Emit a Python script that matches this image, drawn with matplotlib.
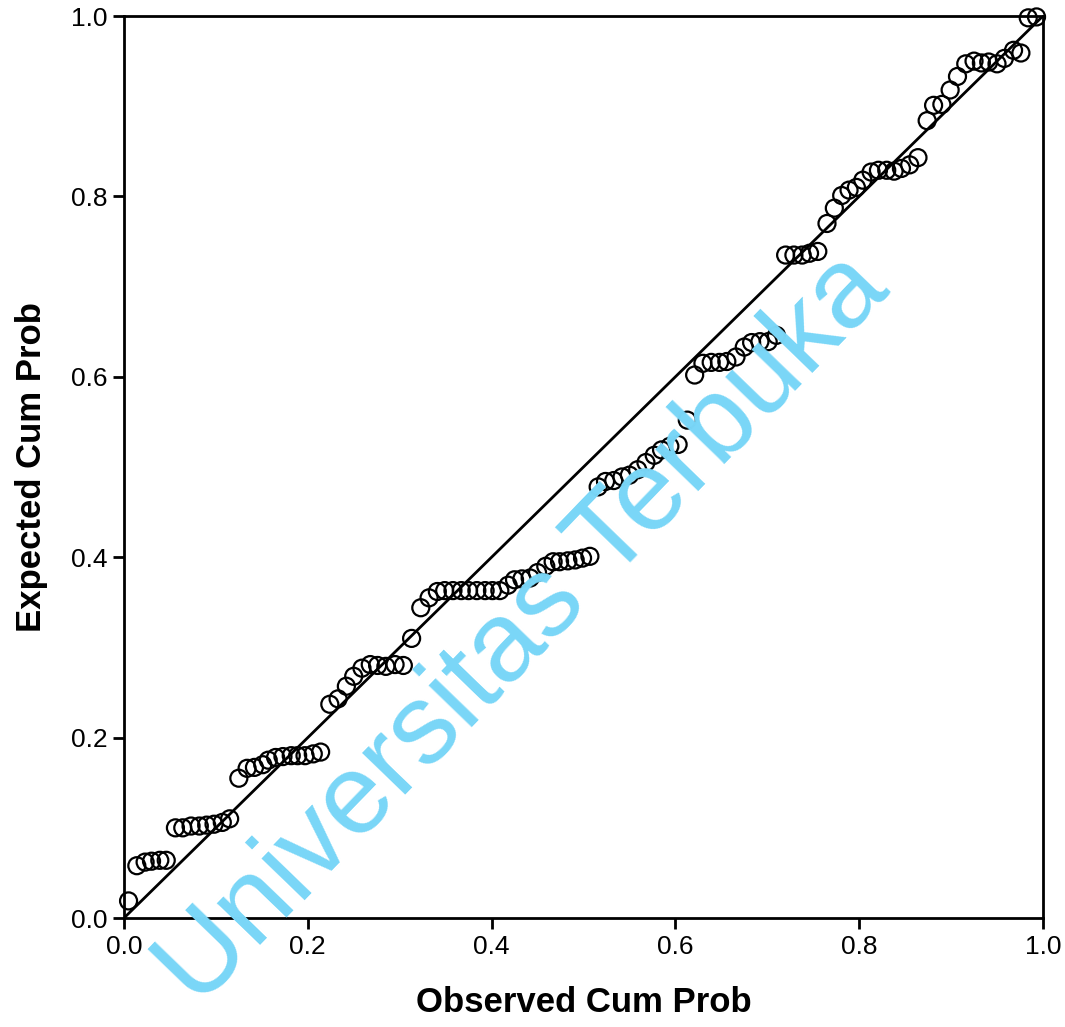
import matplotlib.pyplot as plt
import numpy as np

# P-P plot points
observed = [0.005,
            0.014, 0.023, 0.030, 0.039, 0.046,
            0.056, 0.064, 0.073, 0.082, 0.090, 0.098, 0.107, 0.115,
            0.125, 0.134, 0.142, 0.151, 0.157, 0.165, 0.173, 0.182, 0.189, 0.197, 0.206, 0.214,
            0.224, 0.233, 0.242, 0.250, 0.259, 0.268, 0.276, 0.285, 0.295, 0.304,
            0.313,
            0.323, 0.332, 0.341, 0.349, 0.358, 0.367, 0.375, 0.384, 0.393, 0.401, 0.409,
            0.418, 0.425, 0.433, 0.442, 0.450, 0.459, 0.467, 0.474, 0.483, 0.491, 0.499, 0.507,
            0.516, 0.524, 0.533, 0.542, 0.550, 0.559, 0.568, 0.577, 0.585, 0.594, 0.603,
            0.613,
            0.621, 0.630, 0.639, 0.648, 0.656, 0.666, 0.675, 0.683, 0.692, 0.701, 0.710,
            0.720, 0.729, 0.738, 0.746, 0.755,
            0.765, 0.773, 0.781, 0.789, 0.797, 0.804, 0.813, 0.821, 0.830, 0.838, 0.846, 0.855, 0.864,
            0.874, 0.881, 0.890, 0.899, 0.907, 0.916, 0.925, 0.933, 0.941, 0.950, 0.958, 0.968, 0.976,
            0.984, 0.993]
expected = [0.019,
            0.058, 0.062, 0.063, 0.064, 0.064,
            0.100, 0.100, 0.102, 0.102, 0.103, 0.104, 0.106, 0.110,
            0.155, 0.166, 0.167, 0.170, 0.175, 0.178, 0.179, 0.180, 0.180, 0.180, 0.182, 0.184,
            0.237, 0.243, 0.257, 0.268, 0.277, 0.281, 0.280, 0.279, 0.281, 0.280,
            0.310,
            0.344, 0.355, 0.362, 0.363, 0.363, 0.363, 0.363, 0.363, 0.363, 0.363, 0.363,
            0.369, 0.375, 0.376, 0.377, 0.383, 0.390, 0.395, 0.395, 0.396, 0.397, 0.399, 0.401,
            0.478, 0.484, 0.485, 0.489, 0.491, 0.497, 0.505, 0.513, 0.519, 0.523, 0.525,
            0.552,
            0.602, 0.615, 0.616, 0.616, 0.617, 0.622, 0.633, 0.638, 0.639, 0.639, 0.646,
            0.735, 0.735, 0.735, 0.737, 0.739,
            0.770, 0.787, 0.801, 0.807, 0.810, 0.818, 0.827, 0.829, 0.829, 0.828, 0.831, 0.835, 0.843,
            0.884, 0.901, 0.902, 0.918, 0.933, 0.947, 0.950, 0.948, 0.949, 0.947, 0.953, 0.962, 0.959,
            0.998, 0.999]

ticks = [0.0, 0.2, 0.4, 0.6, 0.8, 1.0]
tick_labels = ['0.0', '0.2', '0.4', '0.6', '0.8', '1.0']

plt.rcParams['font.family'] = ['Liberation Sans', 'DejaVu Sans']

fig = plt.figure(figsize=(10.65, 10.27), dpi=100)
ax = fig.add_axes([0.1164, 0.1061, 0.8629, 0.8783])

ax.plot([0, 1], [0, 1], color='black', lw=2, zorder=3)
ax.scatter(observed, expected, s=150, facecolors='none', edgecolors='black',
           linewidths=1.6, zorder=4, clip_on=False)

ax.set_xlim(0, 1)
ax.set_ylim(0, 1)
ax.set_xticks(ticks)
ax.set_xticklabels(tick_labels)
ax.set_yticks(ticks)
ax.set_yticklabels(tick_labels)
ax.tick_params(direction='out', length=8, width=2, labelsize=19, pad=4)
for sp in ax.spines.values():
    sp.set_linewidth(2)

ax.set_xlabel('Observed Cum Prob', fontsize=25, fontweight='bold', labelpad=20)
ax.set_ylabel('Expected Cum Prob', fontsize=25, fontweight='bold', labelpad=16)

# watermark
fig.text(0.492, 0.387, 'Universitas Terbuka', fontsize=82, color='#79D6F7',
         rotation=46, ha='center', va='center', rotation_mode='anchor', zorder=2)

fig.savefig('out.png', dpi=100)
